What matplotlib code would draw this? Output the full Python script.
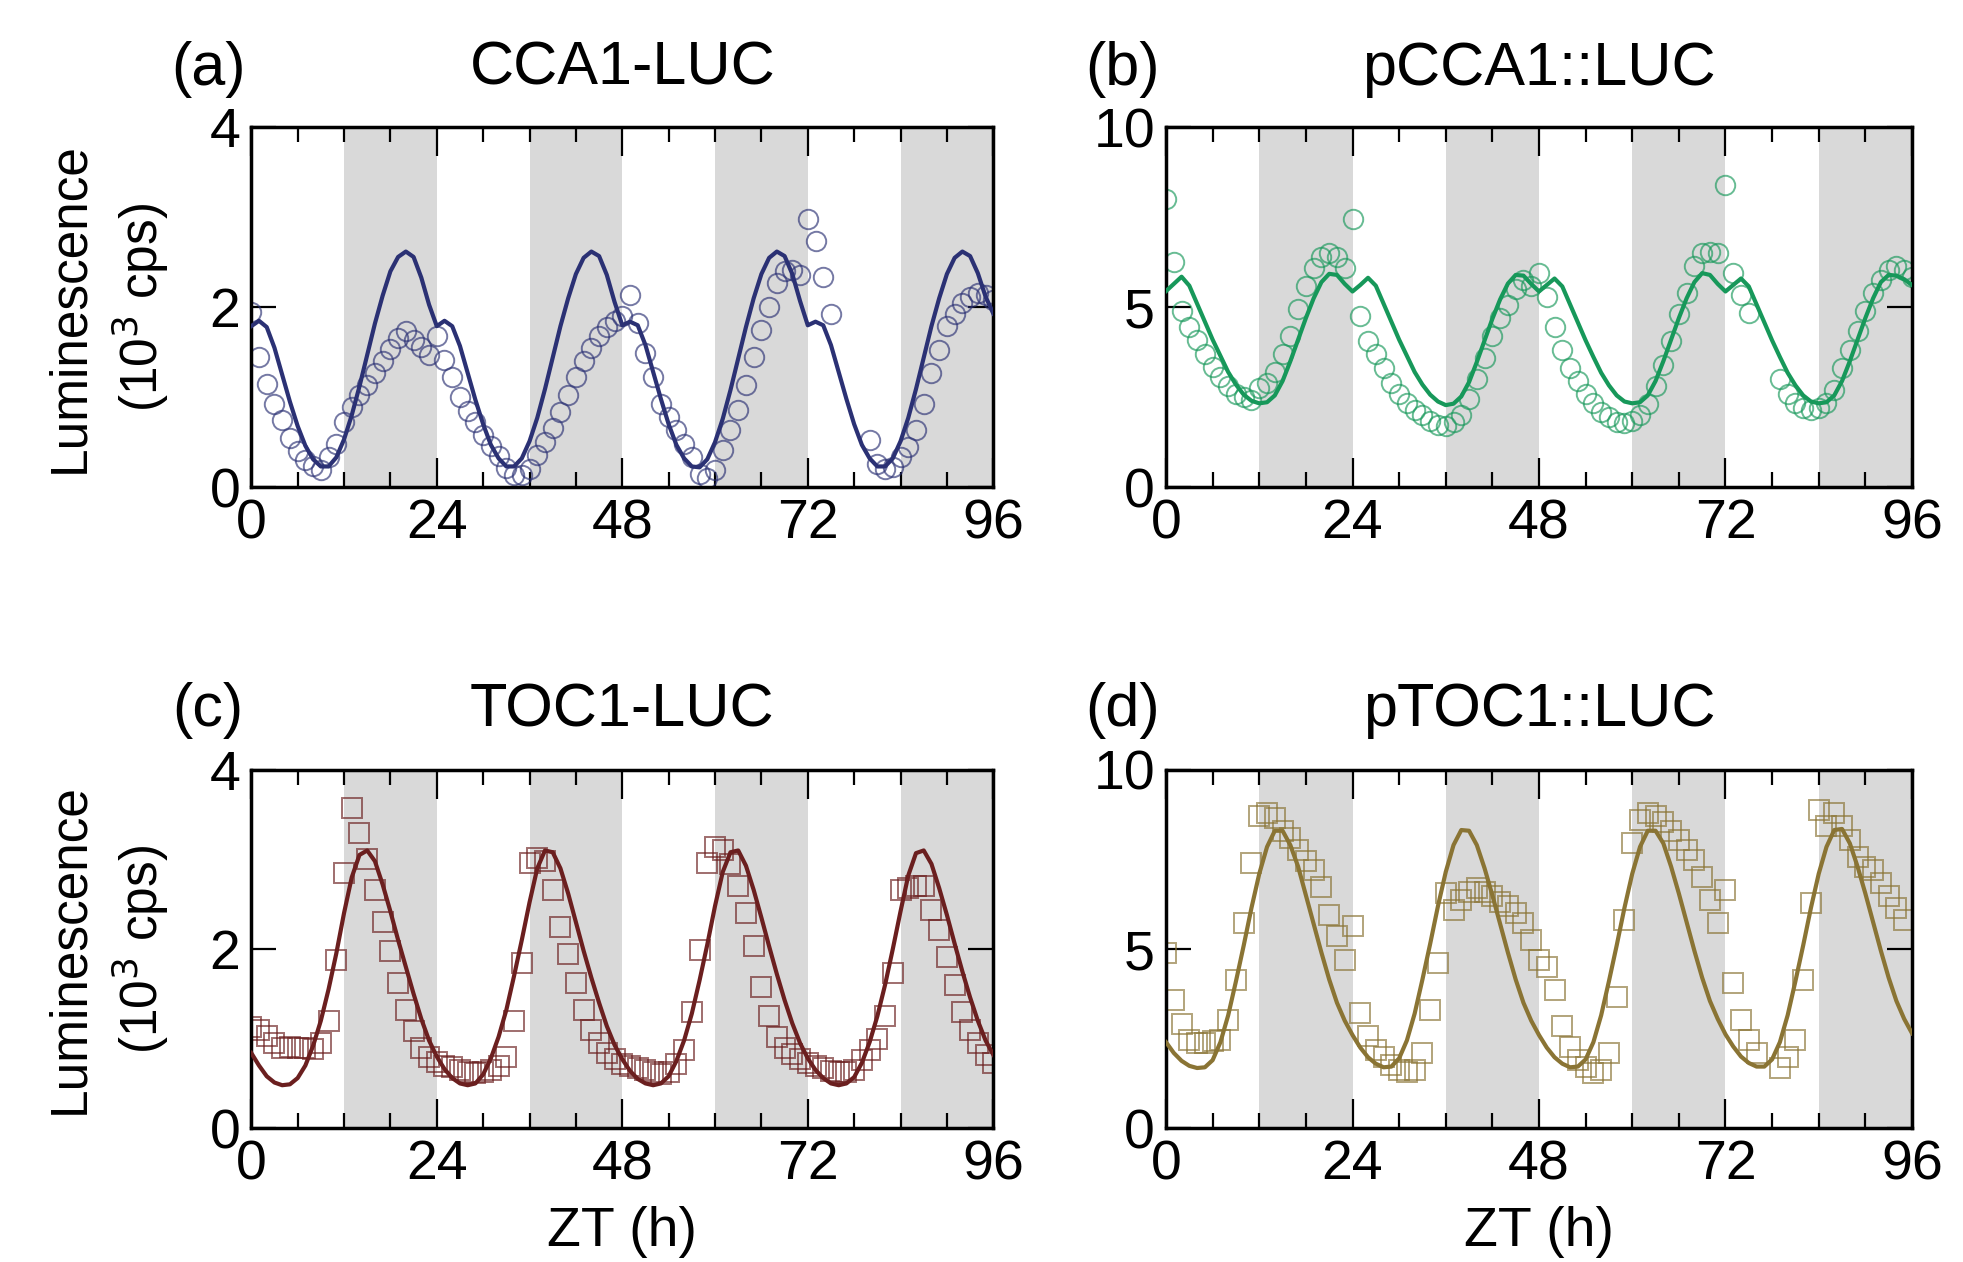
import numpy as np
import matplotlib
matplotlib.use('Agg')
import matplotlib.pyplot as plt

plt.rcParams['font.family'] = ['Liberation Sans', 'DejaVu Sans']

# sampling times (h), hourly
zt = np.arange(0, 97)

# model curves (10^3 cps)
cca1_fit = [1.79, 1.85, 1.78, 1.55, 1.25, 0.95, 0.68, 0.46, 0.31, 0.23, 0.23, 0.33, 0.53, 0.80, 1.12, 1.47, 1.82, 2.13, 2.40, 2.56, 2.62, 2.56, 2.33, 2.03,
            1.79, 1.85, 1.79, 1.57, 1.27, 0.97, 0.70, 0.47, 0.32, 0.23, 0.23, 0.32, 0.51, 0.77, 1.09, 1.44, 1.79, 2.10, 2.37, 2.55, 2.62, 2.57, 2.36, 2.06,
            1.80, 1.84, 1.80, 1.58, 1.28, 0.98, 0.70, 0.47, 0.32, 0.23, 0.22, 0.31, 0.50, 0.76, 1.08, 1.43, 1.78, 2.10, 2.37, 2.55, 2.62, 2.57, 2.37, 2.07,
            1.80, 1.84, 1.80, 1.58, 1.28, 0.98, 0.70, 0.47, 0.32, 0.23, 0.23, 0.32, 0.51, 0.77, 1.09, 1.44, 1.79, 2.10, 2.37, 2.55, 2.62, 2.57, 2.38, 2.12,
            1.93]
pcca1_fit = [5.45, 5.65, 5.85, 5.60, 5.10, 4.60, 4.10, 3.65, 3.20, 2.85, 2.57, 2.40, 2.33, 2.36, 2.55, 2.95, 3.50, 4.10, 4.70, 5.25, 5.70, 5.93, 5.90, 5.65,
             5.44, 5.62, 5.82, 5.60, 5.10, 4.60, 4.10, 3.65, 3.20, 2.85, 2.57, 2.38, 2.28, 2.32, 2.52, 2.92, 3.48, 4.08, 4.68, 5.22, 5.66, 5.90, 5.88, 5.65,
             5.44, 5.62, 5.80, 5.58, 5.08, 4.58, 4.08, 3.62, 3.18, 2.83, 2.55, 2.38, 2.33, 2.36, 2.55, 2.95, 3.50, 4.10, 4.70, 5.25, 5.70, 5.95, 5.90, 5.65,
             5.44, 5.62, 5.80, 5.58, 5.08, 4.58, 4.08, 3.62, 3.18, 2.83, 2.55, 2.38, 2.33, 2.36, 2.55, 2.95, 3.50, 4.10, 4.70, 5.25, 5.70, 5.90, 5.88, 5.78,
             5.62]
toc1_fit = [0.84, 0.70, 0.58, 0.51, 0.48, 0.49, 0.56, 0.70, 0.92, 1.20, 1.55, 1.95, 2.40, 2.80, 3.05, 3.10, 2.98, 2.72, 2.42, 2.10, 1.80, 1.50, 1.22, 0.98,
            0.80, 0.66, 0.56, 0.50, 0.48, 0.50, 0.60, 0.78, 1.02, 1.32, 1.70, 2.10, 2.52, 2.90, 3.10, 3.08, 2.90, 2.62, 2.30, 1.98, 1.68, 1.40, 1.14, 0.93,
            0.77, 0.64, 0.55, 0.50, 0.48, 0.50, 0.58, 0.75, 0.98, 1.28, 1.65, 2.05, 2.48, 2.86, 3.08, 3.10, 2.93, 2.66, 2.35, 2.03, 1.72, 1.43, 1.17, 0.95,
            0.78, 0.65, 0.56, 0.50, 0.48, 0.50, 0.57, 0.73, 0.96, 1.25, 1.60, 2.00, 2.42, 2.82, 3.07, 3.10, 2.95, 2.68, 2.38, 2.06, 1.75, 1.46, 1.20, 0.98,
            0.82]
ptoc1_fit = [2.40, 2.10, 1.88, 1.74, 1.68, 1.70, 1.90, 2.40, 3.15, 4.10, 5.10, 6.15, 7.10, 7.85, 8.30, 8.30, 7.90, 7.30, 6.50, 5.70, 4.90, 4.15, 3.50, 3.00,
             2.60, 2.25, 1.98, 1.80, 1.70, 1.72, 1.95, 2.45, 3.20, 4.15, 5.15, 6.20, 7.15, 7.90, 8.32, 8.30, 7.90, 7.25, 6.50, 5.70, 4.90, 4.15, 3.50, 3.00,
             2.60, 2.25, 1.98, 1.80, 1.70, 1.72, 1.92, 2.40, 3.15, 4.10, 5.10, 6.15, 7.10, 7.85, 8.30, 8.30, 7.95, 7.30, 6.55, 5.75, 4.95, 4.20, 3.55, 3.05,
             2.62, 2.28, 2.00, 1.82, 1.72, 1.72, 1.92, 2.40, 3.15, 4.10, 5.10, 6.15, 7.10, 7.85, 8.32, 8.35, 7.95, 7.30, 6.55, 5.75, 4.95, 4.20, 3.55, 3.05,
             2.65]

nan = np.nan
# measured luminescence
cca1_obs = [1.95, 1.45, 1.15, 0.93, 0.75, 0.55, 0.40, 0.30, 0.24, 0.19, 0.33, 0.48, 0.72, 0.89, 1.02, 1.14, 1.27, 1.40, 1.54, 1.66, 1.74, 1.64, 1.56, 1.47,
            1.68, 1.41, 1.22, 1.00, 0.85, 0.72, 0.58, 0.46, 0.35, 0.21, 0.14, 0.13, 0.20, 0.36, 0.50, 0.66, 0.84, 1.02, 1.22, 1.40, 1.55, 1.68, 1.78, 1.85,
            1.90, 2.14, 1.82, 1.49, 1.23, 0.93, 0.78, 0.63, 0.48, 0.33, 0.15, 0.10, 0.19, 0.41, 0.63, 0.86, 1.14, 1.45, 1.75, 2.00, 2.27, 2.40, 2.42, 2.36,
            2.98, 2.74, 2.34, 1.92, nan, nan, nan, nan, 0.52, 0.26, 0.20, 0.22, 0.33, 0.45, 0.64, 0.93, 1.27, 1.53, 1.79, 1.93, 2.05, 2.12, 2.16, 2.14,
            2.08]
pcca1_obs = [8.00, 6.25, 4.90, 4.45, 4.10, 3.70, 3.35, 3.05, 2.80, 2.60, 2.50, 2.42, 2.75, 2.90, 3.20, 3.70, 4.20, 4.95, 5.60, 6.10, 6.40, 6.50, 6.40, 6.10,
             7.45, 4.75, 4.05, 3.70, 3.30, 2.90, 2.60, 2.35, 2.15, 2.00, 1.85, 1.72, 1.70, 1.80, 2.00, 2.45, 3.00, 3.60, 4.20, 4.70, 5.05, 5.50, 5.75, 5.60,
             5.95, 5.30, 4.45, 3.80, 3.30, 2.95, 2.60, 2.35, 2.10, 1.95, 1.82, 1.78, 1.85, 2.00, 2.30, 2.80, 3.40, 4.05, 4.80, 5.40, 6.15, 6.50, 6.55, 6.50,
             8.40, 5.95, 5.35, 4.85, nan, nan, nan, 3.00, 2.60, 2.33, 2.20, 2.15, 2.20, 2.35, 2.70, 3.30, 3.80, 4.35, 4.90, 5.40, 5.75, 6.05, 6.15, 6.05,
             5.85]
toc1_obs = [1.13, 1.10, 1.03, 0.95, 0.90, 0.91, 0.90, 0.90, 0.88, 0.95, 1.20, 1.88, 2.85, 3.57, 3.29, 3.00, 2.66, 2.30, 1.98, 1.62, 1.32, 1.08, 0.90, 0.80,
            0.74, 0.70, 0.68, 0.65, 0.63, 0.62, 0.63, 0.65, 0.70, 0.80, 1.20, 1.84, 2.96, 3.02, 2.98, 2.66, 2.25, 1.95, 1.62, 1.32, 1.10, 0.95, 0.84, 0.77,
            0.72, 0.69, 0.67, 0.65, 0.63, 0.60, 0.63, 0.72, 0.87, 1.30, 1.99, 2.96, 3.14, 3.10, 2.95, 2.70, 2.40, 2.03, 1.58, 1.25, 1.02, 0.90, 0.83, 0.77,
            0.73, 0.70, 0.67, 0.64, 0.63, 0.63, 0.65, 0.76, 0.87, 1.00, 1.25, 1.73, 2.66, 2.68, 2.70, 2.70, 2.44, 2.21, 1.91, 1.60, 1.30, 1.10, 0.95, 0.82,
            0.73]
ptoc1_obs = [4.88, 3.58, 2.90, 2.45, 2.37, 2.37, 2.42, 2.47, 3.02, 4.14, 5.72, 7.40, 8.70, 8.79, 8.65, 8.28, 8.10, 7.77, 7.45, 7.20, 6.74, 5.95, 5.35, 4.70,
             5.63, 3.21, 2.56, 2.19, 2.00, 1.77, 1.63, 1.58, 1.63, 2.09, 3.30, 4.60, 6.56, 6.09, 6.37, 6.60, 6.70, 6.60, 6.47, 6.30, 6.19, 6.00, 5.72, 5.26,
             4.70, 4.51, 3.86, 2.84, 2.28, 1.91, 1.72, 1.55, 1.63, 2.09, 3.67, 5.81, 7.95, 8.60, 8.79, 8.70, 8.55, 8.30, 8.05, 7.77, 7.49, 7.02, 6.37, 5.72,
             6.65, 4.05, 3.02, 2.47, 2.09, nan, nan, 1.67, 2.00, 2.47, 4.14, 6.28, 8.88, 8.42, 8.79, 8.42, 8.05, 7.58, 7.30, 7.21, 6.84, 6.47, 6.15, 5.80,
             nan]

titles = ['CCA1-LUC', 'pCCA1::LUC', 'TOC1-LUC', 'pTOC1::LUC']
letters = ['(a)', '(b)', '(c)', '(d)']
colors = ['#2b3174', '#17985a', '#6b1f1f', '#8a7434']
markers = ['o', 'o', 's', 's']
ymax = [4, 10, 4, 10]
fits = [cca1_fit, pcca1_fit, toc1_fit, ptoc1_fit]
obs = [cca1_obs, pcca1_obs, toc1_obs, ptoc1_obs]
dark = [(12, 24), (36, 48), (60, 72), (84, 96)]

fig = plt.figure(figsize=(19.63, 12.62), dpi=100)
rects = [[0.128, 0.614, 0.378, 0.285],
         [0.594, 0.614, 0.380, 0.285],
         [0.128, 0.106, 0.378, 0.284],
         [0.594, 0.106, 0.380, 0.284]]

for i in range(4):
    ax = fig.add_axes(rects[i])
    for d0, d1 in dark:
        ax.axvspan(d0, d1, color='#d9d9d9', lw=0, zorder=0)
    ax.plot(zt, obs[i], linestyle='none', marker=markers[i], ms=14, mfc='none',
            mec=colors[i], mew=1.4, alpha=0.65, zorder=2)
    ax.plot(zt, fits[i], color=colors[i], lw=3, zorder=3)
    ax.set_xlim(0, 96)
    ax.set_ylim(0, ymax[i])
    ax.set_xticks([0, 24, 48, 72, 96])
    ax.set_xticks(np.arange(0, 97, 6), minor=True)
    ax.set_yticks([0, ymax[i] / 2, ymax[i]])
    ax.set_yticklabels(['0', str(ymax[i] // 2), str(ymax[i])])
    ax.tick_params(axis='x', which='major', direction='in', length=21, width=1.6,
                   top=True, bottom=True, labelsize=40, pad=8)
    ax.tick_params(axis='x', which='minor', direction='in', length=11, width=1.6,
                   top=True, bottom=True)
    ax.tick_params(axis='y', which='major', direction='in', length=18, width=1.6,
                   left=True, right=True, labelsize=40, pad=8)
    for s in ax.spines.values():
        s.set_linewidth(2.5)
    if i % 2 == 0:
        ax.set_ylabel('Luminescence\n(10$^3$ cps)', fontsize=37, linespacing=1.3)
        ax.yaxis.set_label_coords(-0.108, 0.5)
    cx = rects[i][0] + rects[i][2] / 2
    ty = 0.945 if i < 2 else 0.437
    fig.text(cx, ty, titles[i], fontsize=44, ha='center', va='center')
    fig.text(rects[i][0] - 0.022, ty, letters[i], fontsize=44, ha='center', va='center')
    if i >= 2:
        fig.text(cx, 0.024, 'ZT (h)', fontsize=40, ha='center', va='center')

fig.savefig('out.png', dpi=100)
